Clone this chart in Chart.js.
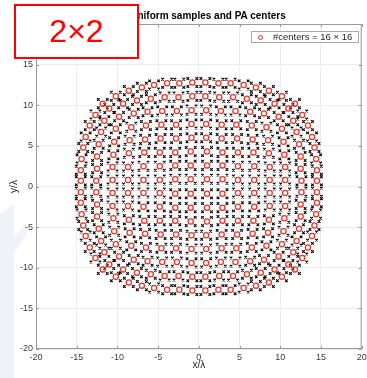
<!DOCTYPE html>
<html>
<head>
<meta charset="utf-8">
<script src="https://cdn.jsdelivr.net/npm/chart.js@4.4.1/dist/chart.umd.min.js"></script>
<style>
    html, body { margin: 0; padding: 0; background: #fff; }
    #wrap { position: relative; width: 367px; height: 378px; overflow: hidden; background: #fff; }
    #mark { position: absolute; left: 0; top: 0; }
    #chart { position: absolute; left: 0; top: 0; }
    #title {
        position: absolute; left: 208px; top: 10px; transform: translateX(-50%);
        font: bold 10px "Liberation Sans", Arial, sans-serif; color: #000; white-space: nowrap;
    }
    #tag {
        position: absolute; left: 14px; top: 4px; width: 121px; height: 51px;
        border: 2px solid #ff0000; background: #fff;
        font: 32px "Liberation Sans", Arial, sans-serif; color: #ff0000;
        display: flex; align-items: center; justify-content: center;
    }
    #legend {
        position: absolute; left: 251px; top: 31px; width: 106px; height: 10px;
        border: 1px solid #a8a8a8; background: #fff;
        font: 9.5px "Liberation Sans", Arial, sans-serif; color: #262626; white-space: nowrap;
    }
    #legend .dot {
        position: absolute; left: 6px; top: 2.5px; width: 3px; height: 3px;
        border: 1.2px solid #e8311f; border-radius: 50%;
    }
    #legend .txt { position: absolute; left: 21px; top: -1px; }
</style>
</head>
<body>
<div id="wrap">
    <!-- faint watermark on the left edge -->
    <svg id="mark" width="367" height="378">
        <polygon points="0,214 14,204 14,378 0,378" fill="#f0f2f8"/>
        <polygon points="0,256 26,222 26,236 0,272" fill="#f0f2f8"/>
    </svg>
    <canvas id="chart" width="367" height="378"></canvas>
    <div id="title">Uniform samples and PA centers</div>
    <div id="legend"><span class="dot"></span><span class="txt">#centers = 16 × 16</span></div>
    <div id="tag">2×2</div>
</div>
<script>
// PA centers, row by row from the top (x/λ and y/λ)
const centerX = [
    [-11.8, -10.2, -8.6, -7.0, -5.5, -3.9, -2.4, -0.8, 0.8, 2.4, 3.9, 5.5, 7.0, 8.6, 10.2, 11.8],
    [-12.7, -11.0, -9.3, -7.6, -5.9, -4.2, -2.5, -0.8, 0.8, 2.5, 4.2, 5.9, 7.6, 9.3, 11.0, 12.7],
    [-13.4, -11.6, -9.8, -8.0, -6.3, -4.5, -2.7, -0.9, 0.9, 2.7, 4.5, 6.3, 8.0, 9.8, 11.6, 13.4],
    [-13.9, -12.0, -10.2, -8.3, -6.5, -4.6, -2.8, -0.9, 0.9, 2.8, 4.6, 6.5, 8.3, 10.2, 12.0, 13.9],
    [-14.2, -12.3, -10.4, -8.5, -6.6, -4.7, -2.8, -0.9, 0.9, 2.8, 4.7, 6.6, 8.5, 10.4, 12.3, 14.2],
    [-14.4, -12.5, -10.5, -8.6, -6.7, -4.8, -2.9, -1.0, 1.0, 2.9, 4.8, 6.7, 8.6, 10.5, 12.5, 14.4],
    [-14.5, -12.5, -10.6, -8.7, -6.8, -4.8, -2.9, -1.0, 1.0, 2.9, 4.8, 6.8, 8.7, 10.6, 12.5, 14.5],
    [-14.5, -12.6, -10.6, -8.7, -6.8, -4.8, -2.9, -1.0, 1.0, 2.9, 4.8, 6.8, 8.7, 10.6, 12.6, 14.5],
    [-14.5, -12.6, -10.6, -8.7, -6.8, -4.8, -2.9, -1.0, 1.0, 2.9, 4.8, 6.8, 8.7, 10.6, 12.6, 14.5],
    [-14.5, -12.5, -10.6, -8.7, -6.8, -4.8, -2.9, -1.0, 1.0, 2.9, 4.8, 6.8, 8.7, 10.6, 12.5, 14.5],
    [-14.4, -12.5, -10.5, -8.6, -6.7, -4.8, -2.9, -1.0, 1.0, 2.9, 4.8, 6.7, 8.6, 10.5, 12.5, 14.4],
    [-14.2, -12.3, -10.4, -8.5, -6.6, -4.7, -2.8, -0.9, 0.9, 2.8, 4.7, 6.6, 8.5, 10.4, 12.3, 14.2],
    [-13.9, -12.0, -10.2, -8.3, -6.5, -4.6, -2.8, -0.9, 0.9, 2.8, 4.6, 6.5, 8.3, 10.2, 12.0, 13.9],
    [-13.4, -11.6, -9.8, -8.0, -6.3, -4.5, -2.7, -0.9, 0.9, 2.7, 4.5, 6.3, 8.0, 9.8, 11.6, 13.4],
    [-12.7, -11.0, -9.3, -7.6, -5.9, -4.2, -2.5, -0.8, 0.8, 2.5, 4.2, 5.9, 7.6, 9.3, 11.0, 12.7],
    [-11.8, -10.2, -8.6, -7.0, -5.5, -3.9, -2.4, -0.8, 0.8, 2.4, 3.9, 5.5, 7.0, 8.6, 10.2, 11.8]
];
const centerY = [
    [10.2, 11.1, 11.8, 12.2, 12.5, 12.7, 12.7, 12.8, 12.8, 12.7, 12.7, 12.5, 12.2, 11.8, 11.1, 10.2],
    [8.8, 9.6, 10.2, 10.6, 10.8, 11.0, 11.0, 11.1, 11.1, 11.0, 11.0, 10.8, 10.6, 10.2, 9.6, 8.8],
    [7.5, 8.1, 8.6, 9.0, 9.2, 9.3, 9.3, 9.4, 9.4, 9.3, 9.3, 9.2, 9.0, 8.6, 8.1, 7.5],
    [6.1, 6.7, 7.1, 7.3, 7.5, 7.6, 7.6, 7.7, 7.7, 7.6, 7.6, 7.5, 7.3, 7.1, 6.7, 6.1],
    [4.8, 5.2, 5.5, 5.7, 5.8, 5.9, 5.9, 6.0, 6.0, 5.9, 5.9, 5.8, 5.7, 5.5, 5.2, 4.8],
    [3.4, 3.7, 3.9, 4.1, 4.2, 4.2, 4.2, 4.3, 4.3, 4.2, 4.2, 4.2, 4.1, 3.9, 3.7, 3.4],
    [2.0, 2.2, 2.4, 2.4, 2.5, 2.5, 2.6, 2.6, 2.6, 2.6, 2.5, 2.5, 2.4, 2.4, 2.2, 2.0],
    [0.7, 0.7, 0.8, 0.8, 0.8, 0.8, 0.9, 0.9, 0.9, 0.9, 0.8, 0.8, 0.8, 0.8, 0.7, 0.7],
    [-0.7, -0.7, -0.8, -0.8, -0.8, -0.8, -0.9, -0.9, -0.9, -0.9, -0.8, -0.8, -0.8, -0.8, -0.7, -0.7],
    [-2.0, -2.2, -2.4, -2.4, -2.5, -2.5, -2.6, -2.6, -2.6, -2.6, -2.5, -2.5, -2.4, -2.4, -2.2, -2.0],
    [-3.4, -3.7, -3.9, -4.1, -4.2, -4.2, -4.2, -4.3, -4.3, -4.2, -4.2, -4.2, -4.1, -3.9, -3.7, -3.4],
    [-4.8, -5.2, -5.5, -5.7, -5.8, -5.9, -5.9, -6.0, -6.0, -5.9, -5.9, -5.8, -5.7, -5.5, -5.2, -4.8],
    [-6.1, -6.7, -7.1, -7.3, -7.5, -7.6, -7.6, -7.7, -7.7, -7.6, -7.6, -7.5, -7.3, -7.1, -6.7, -6.1],
    [-7.5, -8.1, -8.6, -9.0, -9.2, -9.3, -9.3, -9.4, -9.4, -9.3, -9.3, -9.2, -9.0, -8.6, -8.1, -7.5],
    [-8.8, -9.6, -10.2, -10.6, -10.8, -11.0, -11.0, -11.1, -11.1, -11.0, -11.0, -10.8, -10.6, -10.2, -9.6, -8.8],
    [-10.2, -11.1, -11.8, -12.2, -12.5, -12.7, -12.7, -12.8, -12.8, -12.7, -12.7, -12.5, -12.2, -11.8, -11.1, -10.2]
];
// 2x2 uniform samples around each center (offsets in x/λ, y/λ)
const sampleDx = [-0.55, 0.55];
const sampleDy = [0.5, -0.5];

const xTicks = [-20, -15, -10, -5, 0, 5, 10, 15, 20];
const yTicks = [-20, -15, -10, -5, 0, 5, 10, 15, 20];

const centers = [];
const samples = [];
centerX.forEach((row, i) => {
    row.forEach((x, j) => {
        const y = centerY[i][j];
        centers.push({ x, y });
        sampleDy.forEach(dy => sampleDx.forEach(dx => samples.push({ x: x + dx, y: y + dy })));
    });
});

const font = { family: "'Liberation Sans', Arial, sans-serif", size: 9 };

/* box + inward ticks like matlab */
const boxPlugin = {
    id: "box",
    afterDatasetsDraw(chart) {
        const { ctx, chartArea: a, scales } = chart;
        ctx.save();
        ctx.strokeStyle = "#9a9a9a";
        ctx.lineWidth = 1;
        ctx.strokeRect(a.left + 0.5, a.top + 0.5, a.right - a.left - 1, a.bottom - a.top - 1);
        ctx.beginPath();
        xTicks.forEach(v => {
            const px = Math.round(scales.x.getPixelForValue(v)) + 0.5;
            ctx.moveTo(px, a.bottom); ctx.lineTo(px, a.bottom - 3);
            ctx.moveTo(px, a.top); ctx.lineTo(px, a.top + 3);
        });
        yTicks.forEach(v => {
            const py = Math.round(scales.y.getPixelForValue(v)) + 0.5;
            ctx.moveTo(a.left, py); ctx.lineTo(a.left + 3, py);
            ctx.moveTo(a.right, py); ctx.lineTo(a.right - 3, py);
        });
        ctx.stroke();
        ctx.restore();
    }
};

new Chart(document.getElementById("chart"), {
    type: "scatter",
    data: {
        datasets: [
            {
                label: "#centers = 16 × 16",
                data: centers,
                pointStyle: "circle",
                pointRadius: 2.6,
                borderWidth: 1.3,
                borderColor: "#e5392b",
                backgroundColor: "rgba(0,0,0,0)",
                order: 0
            },
            {
                label: "samples",
                data: samples,
                pointStyle: "crossRot",
                pointRadius: 1.9,
                borderWidth: 1.1,
                borderColor: "#000",
                order: 1
            }
        ]
    },
    options: {
        responsive: false,
        animation: false,
        events: [],
        layout: { padding: { top: 24, right: 5, left: 0, bottom: 0 } },
        plugins: {
            legend: { display: false },
            tooltip: { enabled: false }
        },
        scales: {
            x: {
                type: "linear",
                min: -20,
                max: 20,
                afterBuildTicks: s => { s.ticks = xTicks.map(v => ({ value: v })); },
                afterFit: s => { s.height = 29; s.paddingLeft = 0; s.paddingRight = 0; },
                ticks: { font, color: "#3a3a3a", padding: 3, autoSkip: false, maxRotation: 0 },
                grid: { color: "#ececec", drawTicks: false },
                border: { display: false },
                title: {
                    display: true, text: "x/λ", color: "#262626",
                    font: { family: font.family, size: 10 }, padding: { top: 0, bottom: 7 }
                }
            },
            y: {
                type: "linear",
                min: -20,
                max: 20,
                afterBuildTicks: s => { s.ticks = yTicks.map(v => ({ value: v })); },
                afterFit: s => { s.width = 36; s.paddingTop = 0; s.paddingBottom = 0; },
                ticks: { font, color: "#3a3a3a", padding: 3, autoSkip: false },
                grid: { color: "#ececec", drawTicks: false },
                border: { display: false },
                title: {
                    display: true, text: "y/λ", color: "#262626",
                    font: { family: font.family, size: 10 }, padding: { top: 8, bottom: 0 }
                }
            }
        }
    },
    plugins: [boxPlugin]
});
</script>
</body>
</html>
